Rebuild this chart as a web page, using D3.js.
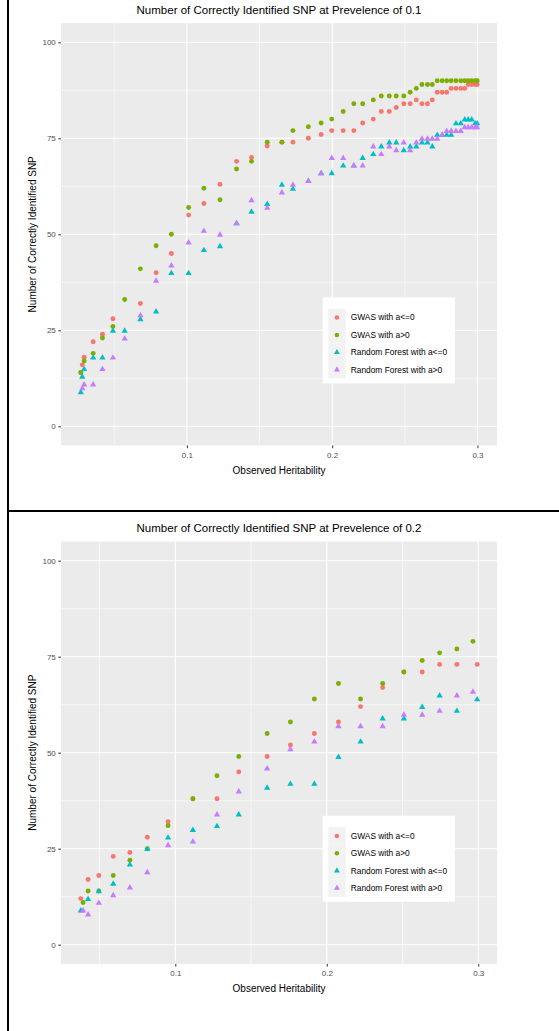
<!DOCTYPE html>
<html>
<head>
<meta charset="utf-8">
<script src="https://cdn.jsdelivr.net/npm/d3@7"></script>
<style>
body { margin: 0; background: #fff; }
text { font-family: "Liberation Sans", Arial, sans-serif; }
</style>
</head>
<body>
<div id="container"></div>
<script>
// ---- data ----
const seriesNames = ["GWAS with a<=0", "GWAS with a>0", "Random Forest with a<=0", "Random Forest with a>0"];
const seriesColors = ["#F8766D", "#7CAE00", "#00BFC4", "#C77CFF"];
const seriesShapes = ["circle", "circle", "triangle", "triangle"];
const yTicks = [0, 25, 50, 75, 100];
const xTicks = [0.1, 0.2, 0.3];
const titles = ["Number of Correctly Identified SNP at Prevelence of 0.1",
                "Number of Correctly Identified SNP at Prevelence of 0.2"];

// prevalence 0.1
const hTop = [0.0270, 0.0280, 0.0293, 0.0355, 0.0419, 0.0491, 0.0572, 0.0680, 0.0788, 0.0893,
              0.1012, 0.1117, 0.1228, 0.1342, 0.1445, 0.1553, 0.1654, 0.1730, 0.1836, 0.1924,
              0.1997, 0.2076, 0.2149, 0.2210, 0.2283, 0.2338, 0.2393, 0.2441, 0.2493, 0.2537,
              0.2579, 0.2618, 0.2656, 0.2689, 0.2723, 0.2757, 0.2788, 0.2819, 0.2852, 0.2885,
              0.2912, 0.2936, 0.2960, 0.2984, 0.2998];
const gwasNegTop = [14, 16, 18, 22, 24, 28, null, 32, 40, 45, 55, 58, 63, 69, 70, 73, 74, 74, 75, 76,
                    77, 77, 77, 79, 80, 82, 82, 83, 84, 84, 85, 84, 84, 85, 87, 87, 87, 88, 88, 88,
                    88, 89, 89, 89, 89];
const gwasPosTop = [14, null, 17, 19, 23, 26, 33, 41, 47, 50, 57, 62, 59, 67, 69, 74, 74, 77, 78, 79,
                    80, 82, 84, 84, 85, 86, 86, 86, 86, 87, 88, 89, 89, 89, 90, 90, 90, 90, 90, 90,
                    90, 90, 90, 90, 90];
const rfNegTop = [9, 13, 15, 18, 18, 25, 25, 28, 30, 40, 40, 46, 47, 53, 56, 58, 63, 62, 64, 66,
                  66, 68, 68, 70, 71, 73, 74, 74, 72, 73, 73, 74, 74, 73, 76, 76, 76, 76, 79, 79,
                  80, 80, 80, 79, 79];
const rfPosTop = [null, 10, 11, 11, 15, 18, 23, 29, 38, 42, 48, 51, 50, 53, 59, 57, 61, 63, 64, 66,
                  70, 70, 68, 68, 73, 71, 73, 72, 74, 72, 74, 75, 75, 75, 75, 76, 77, 77, 77, 77,
                  78, 78, 78, 78, 78];

// prevalence 0.2
const hBottom = [0.0376, 0.0391, 0.0424, 0.0495, 0.0590, 0.0700, 0.0815, 0.0952, 0.1116, 0.1275,
                 0.1419, 0.1606, 0.1760, 0.1918, 0.2077, 0.2223, 0.2369, 0.2509, 0.2630, 0.2745,
                 0.2859, 0.2965, 0.2993];
const gwasNegBottom = [12, null, 17, 18, 23, 24, 28, 32, 38, 38, 45, 49, 52, 55, 58, 62, 67, 71, 71, 73, 73, null, 73];
const gwasPosBottom = [null, 11, 14, 14, 18, 22, 25, 31, 38, 44, 49, 55, 58, 64, 68, 64, 68, 71, 74, 76, 77, 79, null];
const rfNegBottom = [9, null, 12, 14, 16, 21, 25, 28, 30, 31, 34, 41, 42, 42, 49, 53, 59, 59, 62, 65, 61, null, 64];
const rfPosBottom = [null, 9, 8, 11, 13, 15, 19, 26, 27, 34, 40, 46, 51, 53, 57, 57, 57, 60, 60, 61, 65, 66, null];

const width = 559, height = 1031;
const plot = {left: 61, right: 497, top: 23.1, bottom: 445.5};

const svg = d3.select("#container")
  .append("svg")
    .attr("width", width)
    .attr("height", height);

svg.append("rect").attr("width", width).attr("height", height).attr("fill", "#fff");

// table-like frame around the two plots
svg.append("line").attr("x1", 8).attr("x2", 8).attr("y1", 0).attr("y2", height)
  .attr("stroke", "#000").attr("stroke-width", 2);
svg.append("line").attr("x1", 8).attr("x2", width).attr("y1", 511).attr("y2", 511)
  .attr("stroke", "#000").attr("stroke-width", 2);

function drawPanel(offsetY, title, h, ys) {
  const g = svg.append("g").attr("transform", `translate(0,${offsetY})`);

  // ggplot style 5% expansion of the data range
  const ext = d3.extent(h);
  const pad = (ext[1] - ext[0]) * 0.05;
  const x = d3.scaleLinear().domain([ext[0] - pad, ext[1] + pad]).range([plot.left, plot.right]);
  const y = d3.scaleLinear().domain([-5, 105]).range([plot.bottom, plot.top]);

  g.append("rect")
    .attr("x", plot.left).attr("y", plot.top)
    .attr("width", plot.right - plot.left).attr("height", plot.bottom - plot.top)
    .attr("fill", "#EBEBEB");

  const xMinor = xTicks.map(d => d - 0.05).concat([xTicks[xTicks.length - 1] + 0.05])
    .filter(d => d > x.domain()[0] && d < x.domain()[1]);
  const yMinor = yTicks.slice(1).map(d => d - 12.5);

  g.selectAll(".xminor").data(xMinor).enter().append("line")
    .attr("x1", d => x(d)).attr("x2", d => x(d))
    .attr("y1", plot.top).attr("y2", plot.bottom)
    .attr("stroke", "#fff").attr("stroke-width", 0.55);
  g.selectAll(".yminor").data(yMinor).enter().append("line")
    .attr("y1", d => y(d)).attr("y2", d => y(d))
    .attr("x1", plot.left).attr("x2", plot.right)
    .attr("stroke", "#fff").attr("stroke-width", 0.55);
  g.selectAll(".xmajor").data(xTicks).enter().append("line")
    .attr("x1", d => x(d)).attr("x2", d => x(d))
    .attr("y1", plot.top).attr("y2", plot.bottom)
    .attr("stroke", "#fff").attr("stroke-width", 1.1);
  g.selectAll(".ymajor").data(yTicks).enter().append("line")
    .attr("y1", d => y(d)).attr("y2", d => y(d))
    .attr("x1", plot.left).attr("x2", plot.right)
    .attr("stroke", "#fff").attr("stroke-width", 1.1);

  // axes
  const yAxis = g.append("g")
    .attr("transform", `translate(${plot.left},0)`)
    .call(d3.axisLeft(y).tickValues(yTicks).tickSize(2.7).tickPadding(2.5));
  const xAxis = g.append("g")
    .attr("transform", `translate(0,${plot.bottom})`)
    .call(d3.axisBottom(x).tickValues(xTicks).tickSize(2.7).tickPadding(4).tickFormat(d3.format(".1f")));
  [yAxis, xAxis].forEach(a => {
    a.select(".domain").remove();
    a.selectAll("line").attr("stroke", "#333").attr("stroke-width", 1);
    a.selectAll("text").attr("fill", "#4D4D4D").style("font-size", "8px")
      .style("font-family", "'Liberation Sans', Arial, sans-serif");
  });

  // points
  ys.forEach((vals, s) => {
    const pts = h.map((v, i) => ({h: v, n: vals[i]})).filter(d => d.n != null);
    const sym = d3.symbol()
      .type(seriesShapes[s] === "circle" ? d3.symbolCircle : d3.symbolTriangle)
      .size(seriesShapes[s] === "circle" ? 19 : 17);
    g.selectAll(".s" + s).data(pts).enter().append("path")
      .attr("d", sym)
      .attr("transform", d => `translate(${x(d.h)},${y(d.n) + (seriesShapes[s] === "triangle" ? 0.6 : 0)})`)
      .attr("fill", seriesColors[s]);
  });

  // titles
  g.append("text")
    .attr("x", (plot.left + plot.right) / 2).attr("y", 14)
    .attr("text-anchor", "middle")
    .style("font-size", "11.5px")
    .text(title);
  g.append("text")
    .attr("x", (plot.left + plot.right) / 2).attr("y", 474)
    .attr("text-anchor", "middle")
    .style("font-size", "10px")
    .text("Observed Heritability");
  g.append("text")
    .attr("transform", `translate(35.5,${(plot.top + plot.bottom) / 2}) rotate(-90)`)
    .attr("text-anchor", "middle")
    .style("font-size", "10px")
    .text("Number of Correctly Identified SNP");

  // legend
  const lg = g.append("g").attr("transform", "translate(322.7,297.4)");
  lg.append("rect").attr("width", 132.3).attr("height", 86).attr("fill", "#fff");
  const rowH = 17.4;
  const item = lg.selectAll(".legend")
    .data(seriesNames)
    .enter()
    .append("g")
    .attr("transform", (d, i) => `translate(5.6,${11.4 + i * rowH})`);
  item.append("rect")
    .attr("width", 17.3).attr("height", rowH)
    .attr("fill", "#F2F2F2");
  item.append("path")
    .attr("d", (d, i) => d3.symbol()
      .type(seriesShapes[i] === "circle" ? d3.symbolCircle : d3.symbolTriangle)
      .size(seriesShapes[i] === "circle" ? 16 : 15)())
    .attr("transform", `translate(8.6,${rowH / 2})`)
    .attr("fill", (d, i) => seriesColors[i]);
  item.append("text")
    .attr("x", 22.4).attr("y", rowH / 2).attr("dy", "0.35em")
    .style("font-size", "8.4px")
    .text(d => d);
}

drawPanel(0, titles[0], hTop, [gwasNegTop, gwasPosTop, rfNegTop, rfPosTop]);
drawPanel(518.4, titles[1], hBottom, [gwasNegBottom, gwasPosBottom, rfNegBottom, rfPosBottom]);
</script>
</body>
</html>
